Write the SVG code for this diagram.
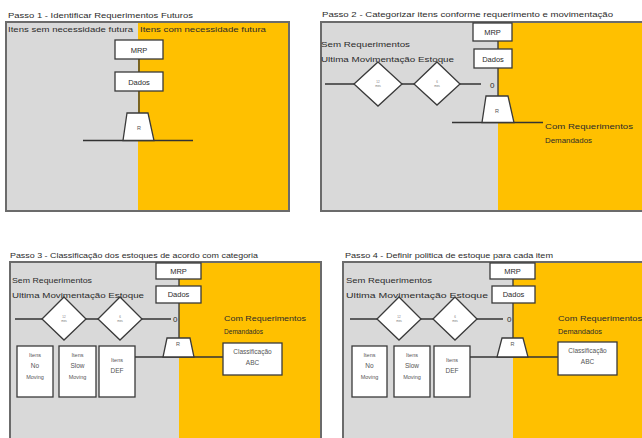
<svg xmlns="http://www.w3.org/2000/svg" width="642" height="438" viewBox="0 0 642 438">
  <style>
    .bg { fill: #ffffff; }
    .gray { fill: #d9d9d9; }
    .orange { fill: #ffc000; }
    .frame { fill: none; stroke: #6b6b6b; stroke-width: 2; }
    .box { fill: #ffffff; stroke: #3a3a3a; stroke-width: 1.3; }
    .shadow { fill: #9a9a9a; opacity: 0.5; }
    .conn { fill: none; stroke: #333333; stroke-width: 1.3; }
    text { font-family: "Liberation Sans", Arial, sans-serif; fill: #2b2b2b; }
    .title { font-size: 8px; }
    .lbl { font-size: 8px; }
    .box-t { font-size: 7.5px; text-anchor: middle; }
    .small { font-size: 5.5px; text-anchor: middle; fill: #555555; }
    .tiny { font-size: 3px; text-anchor: middle; fill: #777777; }
  </style>

  <rect class="bg" x="0" y="0" width="642" height="438"/>

  <!-- ===== Passo 1 ===== -->
  <g id="passo1">
    <text class="title" x="8" y="18" textLength="185" lengthAdjust="spacingAndGlyphs">Passo 1 - Identificar Requerimentos Futuros</text>
    <rect class="gray" x="6" y="22" width="132" height="189"/>
    <rect class="orange" x="138" y="22" width="151" height="189"/>
    <rect class="frame" x="6" y="22" width="283" height="189"/>
    <text class="lbl" x="8" y="32" textLength="125" lengthAdjust="spacingAndGlyphs">Itens sem necessidade futura</text>
    <text class="lbl" x="140" y="32" textLength="126" lengthAdjust="spacingAndGlyphs">Itens com necessidade futura</text>
  </g>
  <g id="connectors-p1">
    <line class="conn" x1="139" y1="59" x2="139" y2="114"/>
    <line class="conn" x1="83" y1="140.5" x2="193" y2="140.5"/>
  </g>
  <g id="p1-mrp">
    <rect class="box" x="115" y="40" width="48" height="19"/>
    <text class="box-t" x="139" y="52.5">MRP</text>
  </g>
  <g id="p1-dados">
    <rect class="box" x="115" y="72" width="48" height="19"/>
    <text class="box-t" x="139" y="84.5">Dados</text>
  </g>
  <g id="p1-r">
    <polygon class="box" points="127,113 148,113 154,140.5 123,140.5"/>
    <text class="small" x="139" y="130">R</text>
  </g>

  <!-- ===== Passo 2 ===== -->
  <g id="passo2">
    <text class="title" x="322" y="17" textLength="291" lengthAdjust="spacingAndGlyphs">Passo 2 - Categorizar itens conforme requerimento e movimentação</text>
    <rect class="gray" x="321" y="22" width="177" height="189"/>
    <rect class="orange" x="498" y="22" width="150" height="189"/>
    <path class="frame" d="M645,22 H321 V211 H645"/>
    <text class="lbl" x="321" y="47" textLength="89" lengthAdjust="spacingAndGlyphs">Sem Requerimentos</text>
    <text class="lbl" x="321" y="62" textLength="133" lengthAdjust="spacingAndGlyphs">Ultima Movimentação Estoque</text>
    <text class="lbl" x="545" y="129" textLength="88" lengthAdjust="spacingAndGlyphs">Com Requerimentos</text>
    <text class="lbl" x="545" y="143" textLength="47" lengthAdjust="spacingAndGlyphs">Demandados</text>
    <text class="lbl" x="490" y="87.5">0</text>
  </g>
  <g id="connectors-p2">
    <line class="conn" x1="498" y1="41" x2="498" y2="96"/>
    <line class="conn" x1="325" y1="84" x2="481" y2="84"/>
    <line class="conn" x1="452" y1="122.5" x2="543" y2="122.5"/>
  </g>
  <g id="p2-mrp">
    <rect class="box" x="473" y="23" width="39" height="18"/>
    <text class="box-t" x="492.5" y="35">MRP</text>
  </g>
  <g id="p2-dados">
    <rect class="box" x="474" y="49" width="38" height="19"/>
    <text class="box-t" x="493" y="61.5">Dados</text>
  </g>
  <g id="p2-d12">
    <polygon class="box" points="378,62 402,84 378,106 354,84"/>
    <text class="tiny" x="378" y="83">12</text>
    <text class="tiny" x="378" y="87">mes</text>
  </g>
  <g id="p2-d6">
    <polygon class="box" points="437,62 460,84 437,105 414,84"/>
    <text class="tiny" x="437" y="83">6</text>
    <text class="tiny" x="437" y="87">mes</text>
  </g>
  <g id="p2-r">
    <polygon class="box" points="486,96 508,96 514,122.5 482,122.5"/>
    <text class="small" x="497" y="113">R</text>
  </g>

  <!-- ===== Passo 3 ===== -->
  <g id="passo3">
    <text class="title" x="10" y="258" textLength="248" lengthAdjust="spacingAndGlyphs">Passo 3 - Classificação dos estoques de acordo com categoria</text>
    <rect class="gray" x="10" y="262" width="169" height="180"/>
    <rect class="orange" x="179" y="262" width="142" height="180"/>
    <path class="frame" d="M10,445 V262 H321 V445"/>
    <text class="lbl" x="12" y="283" textLength="80" lengthAdjust="spacingAndGlyphs">Sem Requerimentos</text>
    <text class="lbl" x="12" y="298" textLength="132" lengthAdjust="spacingAndGlyphs">Ultima Movimentação Estoque</text>
    <text class="lbl" x="224" y="321" textLength="82" lengthAdjust="spacingAndGlyphs">Com Requerimentos</text>
    <text class="lbl" x="224" y="334" textLength="39" lengthAdjust="spacingAndGlyphs">Demandados</text>
    <text class="lbl" x="173" y="322">0</text>
  </g>
  <g id="connectors-p3">
    <line class="conn" x1="179" y1="279" x2="179" y2="338"/>
    <line class="conn" x1="15" y1="319" x2="171" y2="319"/>
    <line class="conn" x1="135" y1="357" x2="223" y2="357"/>
  </g>
  <g id="p3-mrp">
    <rect class="box" x="156" y="263" width="45" height="16"/>
    <text class="box-t" x="178.5" y="274">MRP</text>
  </g>
  <g id="p3-dados">
    <rect class="box" x="156" y="286" width="45" height="17"/>
    <text class="box-t" x="178.5" y="297">Dados</text>
  </g>
  <g id="p3-d12">
    <polygon class="box" points="64,297 86,319 64,340 42,319"/>
    <text class="tiny" x="64" y="318">12</text>
    <text class="tiny" x="64" y="322">mes</text>
  </g>
  <g id="p3-d6">
    <polygon class="box" points="120,297 142,319 120,340 98,319"/>
    <text class="tiny" x="120" y="318">6</text>
    <text class="tiny" x="120" y="322">mes</text>
  </g>
  <g id="p3-r">
    <polygon class="box" points="167,338 190,338 194,357 163,357"/>
    <text class="small" x="178" y="346">R</text>
  </g>
  <g id="p3-nomoving">
    <rect class="box" x="17" y="346" width="36" height="51"/>
    <text class="small" x="35" y="357">Itens</text>
    <text class="small" x="35" y="368" style="font-size:6.5px">No</text>
    <text class="small" x="35" y="379">Moving</text>
  </g>
  <g id="p3-slowmoving">
    <rect class="box" x="59" y="346" width="37" height="51"/>
    <text class="small" x="77.5" y="357">Itens</text>
    <text class="small" x="77.5" y="368" style="font-size:6.5px">Slow</text>
    <text class="small" x="77.5" y="379">Moving</text>
  </g>
  <g id="p3-def">
    <rect class="box" x="99" y="346" width="36" height="51"/>
    <text class="small" x="117" y="362">Itens</text>
    <text class="small" x="117" y="373" style="font-size:6.5px">DEF</text>
  </g>
  <g id="p3-abc">
    <rect class="box" x="223" y="343" width="59" height="32"/>
    <text class="small" x="252.5" y="354" style="font-size:6.5px">Classificação</text>
    <text class="small" x="252.5" y="365" style="font-size:6.5px">ABC</text>
  </g>

  <!-- ===== Passo 4 ===== -->
  <g id="passo4">
    <text class="title" x="345" y="258" textLength="208" lengthAdjust="spacingAndGlyphs">Passo 4 - Definir politica de estoque para cada item</text>
    <rect class="gray" x="343" y="262" width="170" height="180"/>
    <rect class="orange" x="513" y="262" width="135" height="180"/>
    <path class="frame" d="M343,445 V262 H645"/>
    <text class="lbl" x="346" y="283" textLength="86" lengthAdjust="spacingAndGlyphs">Sem Requerimentos</text>
    <text class="lbl" x="346" y="298" textLength="142" lengthAdjust="spacingAndGlyphs">Ultima Movimentação Estoque</text>
    <text class="lbl" x="558" y="321" textLength="84" lengthAdjust="spacingAndGlyphs">Com Requerimentos</text>
    <text class="lbl" x="558" y="334" textLength="44" lengthAdjust="spacingAndGlyphs">Demandados</text>
    <text class="lbl" x="507" y="322">0</text>
  </g>
  <g id="connectors-p4">
    <line class="conn" x1="513" y1="279" x2="513" y2="338"/>
    <line class="conn" x1="350" y1="319" x2="503" y2="319"/>
    <line class="conn" x1="470" y1="357" x2="558" y2="357"/>
  </g>
  <g id="p4-mrp">
    <rect class="box" x="490" y="263" width="45" height="16"/>
    <text class="box-t" x="512.5" y="274">MRP</text>
  </g>
  <g id="p4-dados">
    <rect class="box" x="492" y="286" width="43" height="17"/>
    <text class="box-t" x="513.5" y="297">Dados</text>
  </g>
  <g id="p4-d12">
    <polygon class="box" points="399,297 421,319 399,340 377,319"/>
    <text class="tiny" x="399" y="318">12</text>
    <text class="tiny" x="399" y="322">mes</text>
  </g>
  <g id="p4-d6">
    <polygon class="box" points="455,297 477,319 455,340 433,319"/>
    <text class="tiny" x="455" y="318">6</text>
    <text class="tiny" x="455" y="322">mes</text>
  </g>
  <g id="p4-r">
    <polygon class="box" points="502,338 523,338 528,357 497,357"/>
    <text class="small" x="512.5" y="346">R</text>
  </g>
  <g id="p4-nomoving">
    <rect class="box" x="352" y="346" width="35" height="51"/>
    <text class="small" x="369.5" y="357">Itens</text>
    <text class="small" x="369.5" y="368" style="font-size:6.5px">No</text>
    <text class="small" x="369.5" y="379">Moving</text>
  </g>
  <g id="p4-slowmoving">
    <rect class="box" x="394" y="346" width="36" height="51"/>
    <text class="small" x="412" y="357">Itens</text>
    <text class="small" x="412" y="368" style="font-size:6.5px">Slow</text>
    <text class="small" x="412" y="379">Moving</text>
  </g>
  <g id="p4-def">
    <rect class="box" x="434" y="346" width="36" height="51"/>
    <text class="small" x="452" y="362">Itens</text>
    <text class="small" x="452" y="373" style="font-size:6.5px">DEF</text>
  </g>
  <g id="p4-abc">
    <rect class="box" x="558" y="342" width="59" height="33"/>
    <text class="small" x="587.5" y="353" style="font-size:6.5px">Classificação</text>
    <text class="small" x="587.5" y="364" style="font-size:6.5px">ABC</text>
  </g>
</svg>
